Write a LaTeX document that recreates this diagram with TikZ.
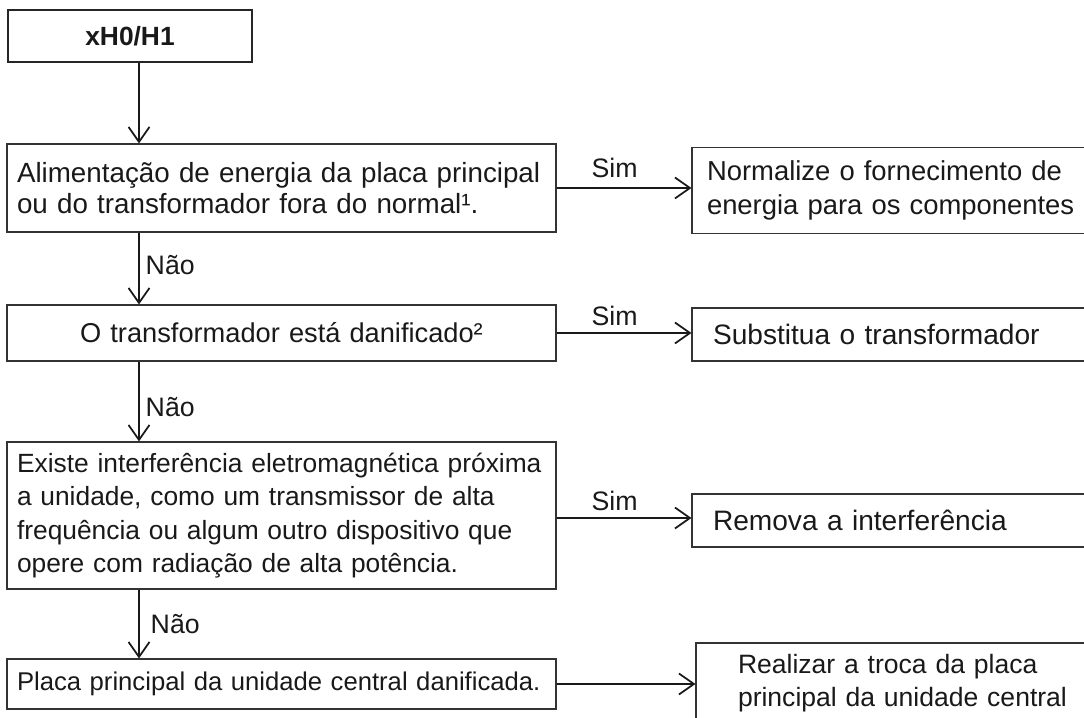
\documentclass[tikz,border=0pt]{standalone}
\usepackage{fontspec}
\setmainfont{Liberation Sans}
\usetikzlibrary{arrows.meta, positioning}
\newcommand{\fs}[2]{\fontsize{#1}{#2}\selectfont}
\hyphenpenalty=10000
\exhyphenpenalty=10000

\begin{document}
\begin{tikzpicture}[
  sbox/.style={rectangle, draw=black!85, line width=0.7pt, text=black!90,
               minimum width=4.88cm, minimum height=1.04cm, align=center, font=\fs{15}{18}\bfseries},
  lbox/.style={rectangle, draw=black!80, line width=0.6pt, text=black!90,
               text width=10.58cm, inner xsep=0.2cm, align=left},
  rbox/.style={rectangle, draw=black!80, line width=0.6pt, text=black!90,
               text width=7.72cm, inner xsep=0.3cm, align=left},
  arr/.style={draw, line width=1pt, black!90, -{Straight Barb[length=3mm, width=4.2mm]}},
  lbl/.style={font=\fs{15.2}{18}, text=black!90}
]

%% recorte = tamanho da figura (as caixas da direita saem da borda)
\clip (0,0) rectangle (21.68,14.36);

%% início
\node[sbox] (start) at (2.60, 13.64) {xH0/H1};

%% perguntas (coluna esquerda)
\node[lbox, minimum height=1.76cm, font=\fs{15.8}{17.2}] (q1) at (5.63, 10.60)
  {Alimentação de energia da placa principal\\ ou do transformador fora do normal¹.};
\node[lbox, minimum height=1.12cm, align=center, font=\fs{15.5}{19}] (q2) at (5.63, 7.70)
  {O transformador está danificado²};
\node[lbox, minimum height=2.94cm, font=\fs{15}{18.9}] (q3) at (5.63, 4.05)
  {Existe interferência eletromagnética próxima\\ a unidade, como um transmissor de alta\\
   frequência ou algum outro dispositivo que\\ opere com radiação de alta potência.};
\node[lbox, minimum height=1.0cm, font=\fs{14.6}{18}] (q4) at (5.63, 0.68)
  {Placa principal da unidade central danificada.};

%% ações (coluna direita)
\node[rbox, minimum height=1.72cm, font=\fs{15.6}{19.2}] (r1) at (18.00, 10.55)
  {Normalize o fornecimento de\\ energia para os componentes};
\node[rbox, minimum height=1.06cm, inner xsep=0.42cm, text width=7.48cm, font=\fs{16}{19}] (r2) at (18.00, 7.67)
  {Substitua o transformador};
\node[rbox, minimum height=1.06cm, inner xsep=0.42cm, text width=7.48cm, font=\fs{16}{19}] (r3) at (18.00, 3.95)
  {Remova a interferência};
\node[rbox, minimum height=1.62cm, inner xsep=0.84cm, text width=7.0cm, font=\fs{15.1}{18.8}] (r4) at (18.26, 0.69)
  {Realizar a troca da placa\\ principal da unidade central};

%% eixo vertical das setas
\coordinate (sx) at (2.78, 0);

%% setas "Não"
\draw[arr] (start.south -| sx) -- (q1.north -| sx);
\draw[arr] (q1.south -| sx) -- (q2.north -| sx) node[pos=0.45, right, lbl] {Não};
\draw[arr] (q2.south -| sx) -- (q3.north -| sx) node[pos=0.57, right, lbl] {Não};
\draw[arr] (q3.south -| sx) -- (q4.north -| sx) node[midway, right, lbl, xshift=0.1cm] {Não};

%% setas "Sim"
\draw[arr] (q1.east) -- (q1.east -| r1.west) node[pos=0.43, above, lbl, yshift=2pt] {Sim};
\draw[arr] (q2.east) -- (q2.east -| r2.west) node[pos=0.43, above, lbl] {Sim};
\draw[arr] ([yshift=-0.05cm]q3.east) -- ([yshift=-0.05cm]q3.east -| r3.west) node[pos=0.43, above, lbl] {Sim};
\draw[arr] (q4.east) -- (q4.east -| r4.west);

\end{tikzpicture}
\end{document}
